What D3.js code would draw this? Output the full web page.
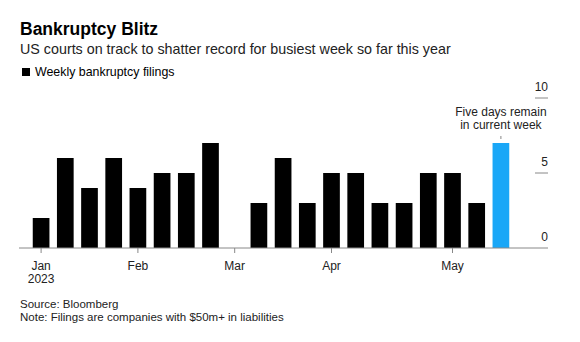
<!DOCTYPE html>
<html>
<head>
<meta charset="utf-8">
<script src="https://cdn.jsdelivr.net/npm/d3@7"></script>
<style>
  html, body { margin: 0; padding: 0; background: #fff; }
  svg { display: block; font-family: "Liberation Sans", Arial, Helvetica, sans-serif; }
</style>
</head>
<body>
<svg id="chart" width="580" height="342"></svg>
<script>
// Weekly bankruptcy filings, 2023 (weeks ending Sunday)
const weeks = [
  "2023-01-08", "2023-01-15", "2023-01-22", "2023-01-29",
  "2023-02-05", "2023-02-12", "2023-02-19", "2023-02-26",
  "2023-03-05", "2023-03-12", "2023-03-19", "2023-03-26",
  "2023-04-02", "2023-04-09", "2023-04-16", "2023-04-23", "2023-04-30",
  "2023-05-07", "2023-05-14", "2023-05-21"
];
const filings = [2, 6, 4, 6, 4, 5, 5, 7, 0, 3, 6, 3, 5, 5, 3, 3, 5, 5, 3, 7];
const currentWeek = "2023-05-21";
const yTicks = [0, 5, 10];
const monthTicks = ["2023-01-08", "2023-02-05", "2023-03-05", "2023-04-02", "2023-05-07"];
const monthLabels = ["Jan", "Feb", "Mar", "Apr", "May"];

const svg = d3.select("#chart");

// Header
svg.append("text").attr("x", 20).attr("y", 35)
  .attr("font-size", 17.5).attr("font-weight", "bold").attr("fill", "#000")
  .text("Bankruptcy Blitz");
svg.append("text").attr("x", 20).attr("y", 54)
  .attr("font-size", 14.3).attr("fill", "#222")
  .text("US courts on track to shatter record for busiest week so far this year");

// Legend
svg.append("rect").attr("x", 22).attr("y", 68).attr("width", 8).attr("height", 8).attr("fill", "#000");
svg.append("text").attr("x", 35).attr("y", 76)
  .attr("font-size", 12.4).attr("fill", "#000")
  .text("Weekly bankruptcy filings");

// Scales
const x = d3.scaleBand().domain(weeks).range([29, 513])
  .paddingInner(0.31).paddingOuter(0.155);
const y = d3.scaleLinear().domain([0, 10]).range([248, 98]);

// Bars
svg.append("g").selectAll("rect")
  .data(weeks.map((w, i) => ({ week: w, value: filings[i] })))
  .join("rect")
  .attr("x", d => x(d.week))
  .attr("width", x.bandwidth())
  .attr("y", d => y(d.value))
  .attr("height", d => y(0) - y(d.value))
  .attr("fill", d => d.week === currentWeek ? "#1aa7f7" : "#000");

// Right-hand value axis: short rules with labels sitting above them
const yAxis = svg.append("g");
yAxis.selectAll("line")
  .data(yTicks.filter(t => t !== 0))
  .join("line")
  .attr("x1", 535).attr("x2", 548)
  .attr("y1", d => y(d)).attr("y2", d => y(d))
  .attr("stroke", "#888").attr("stroke-width", 1);
yAxis.selectAll("text")
  .data(yTicks)
  .join("text")
  .attr("x", 548).attr("y", d => y(d) - 7)
  .attr("text-anchor", "end").attr("font-size", 12).attr("fill", "#222")
  .text(d => d);

// Baseline
svg.append("line")
  .attr("x1", 19).attr("x2", 548)
  .attr("y1", y(0)).attr("y2", y(0))
  .attr("stroke", "#888").attr("stroke-width", 1);

// Month axis
const xAxis = d3.axisBottom(x)
  .tickValues(monthTicks)
  .tickSize(5)
  .tickPadding(8)
  .tickFormat(d => monthLabels[monthTicks.indexOf(d)]);
const gx = svg.append("g").attr("transform", `translate(0,${y(0)})`).call(xAxis);
gx.select(".domain").remove();
gx.selectAll(".tick line").attr("stroke", "#888");
gx.selectAll(".tick text")
  .attr("font-size", 12).attr("fill", "#222")
  .attr("font-family", "Liberation Sans, Arial, sans-serif");
gx.select(".tick text").append("tspan")
  .attr("x", 0).attr("dy", "1.15em").text("2023");

// Annotation for the current week
const cx = x(currentWeek) + x.bandwidth() / 2;
const note = svg.append("text").attr("text-anchor", "middle")
  .attr("font-size", 12).attr("fill", "#222");
note.append("tspan").attr("x", cx).attr("y", 116).text("Five days remain");
note.append("tspan").attr("x", cx).attr("y", 129).text("in current week");
svg.append("line")
  .attr("x1", cx).attr("x2", cx)
  .attr("y1", 136).attr("y2", y(7) - 4)
  .attr("stroke", "#888").attr("stroke-width", 1);

// Footer
svg.append("text").attr("x", 20).attr("y", 308)
  .attr("font-size", 11.5).attr("fill", "#222")
  .text("Source: Bloomberg");
svg.append("text").attr("x", 20).attr("y", 321)
  .attr("font-size", 11.5).attr("fill", "#222")
  .text("Note: Filings are companies with $50m+ in liabilities");
</script>
</body>
</html>
